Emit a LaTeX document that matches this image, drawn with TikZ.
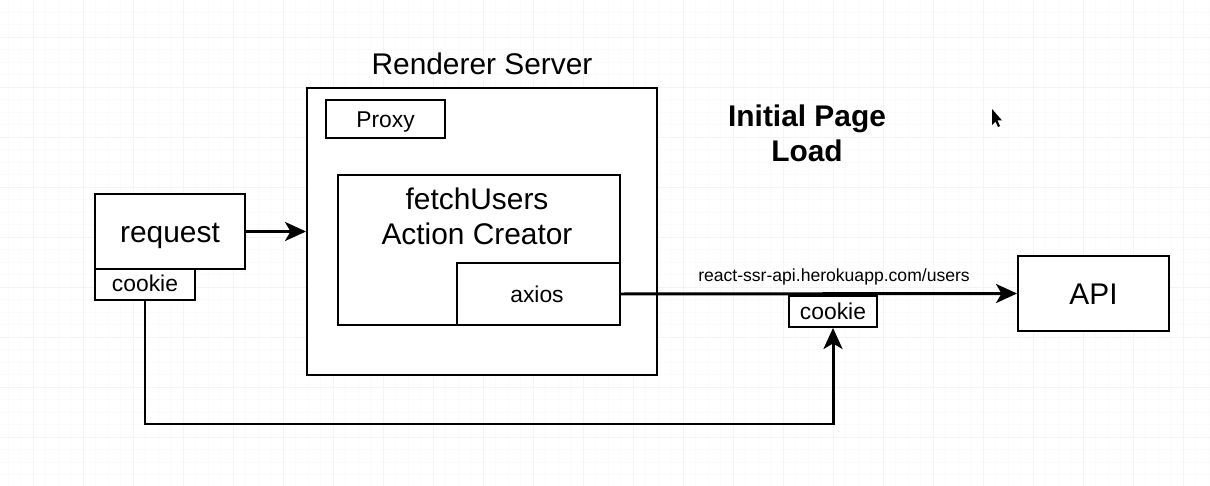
\documentclass[tikz,border=0pt]{standalone}
\usepackage{fontspec}
\setmainfont{Liberation Sans}
\usetikzlibrary{positioning, arrows.meta}

\begin{document}
\begin{tikzpicture}[
    box/.style={draw, line width=1.1pt, inner sep=0pt, fill=white},
    big/.style={font=\fontsize{17}{19.8}\selectfont, align=center},
    bigbox/.style={box, font=\fontsize{17}{19.8}\selectfont, text height=0.44cm, text depth=0pt},
    small/.style={box, font=\fontsize{13}{15}\selectfont, text height=0.35cm, text depth=0pt},
    flow/.style={line width=1.7pt, -{Stealth[length=4.2mm, width=3.8mm, inset=1.1mm]}},
]
\useasboundingbox (0,0) rectangle (24.2,9.7);

% background grid
\begin{scope}
\clip (0,0) rectangle (24.2,9.7);
\draw[gray!3, line width=0.4pt, shift={(0.66,-0.04)}, step=0.25] (-1,-1) grid (26,11);
\draw[gray!9, line width=0.5pt, shift={(0.66,-0.04)}, step=1] (-1,-1) grid (26,11);
\end{scope}

\node[box, minimum width=7.0cm, minimum height=5.74cm] (server) at (9.64, 5.07) {};
\node[big] (title) at (9.64, 8.42) {Renderer Server};
\node[small, minimum width=2.38cm, minimum height=0.76cm] (proxy) at (7.71, 7.32) {Proxy};

\node[box, minimum width=5.64cm, minimum height=3.0cm] (fetch) at (9.58, 4.7) {};
\node[big] (fetchlbl) at (9.54, 5.37) {fetchUsers\\Action Creator};
\node[small, minimum width=3.26cm, minimum height=1.24cm] (axios) at (10.77, 3.82) {\hspace{-0.06cm}axios};

\node[bigbox, minimum width=3.0cm, minimum height=1.5cm] (request) at (3.4, 5.07) {request};
\node[small, minimum width=2.0cm, minimum height=0.62cm, text height=0.3cm] (cookie1) at (2.9, 4.01) {cookie};

\node[bigbox, minimum width=3.02cm, minimum height=1.5cm] (api) at (21.87, 3.83) {API};
\node[small, minimum width=1.76cm, minimum height=0.62cm, text height=0.34cm] (cookie2) at (16.66, 3.47) {cookie};

\node[big, font=\fontsize{17}{19.8}\bfseries] (heading) at (16.14, 7.04) {Initial Page\\Load};
\node[font=\fontsize{10}{12}\selectfont] (url) at (16.68, 4.16) {react-ssr-api.herokuapp.com/users};

\coordinate (turn1) at (2.9, 1.22);
\coordinate (turn2) at (16.66, 1.22);

\draw[flow] (request.east) -- (request.east -| server.west);
\draw[flow] (axios.east) -- (api.west);
\draw[flow] (cookie1.south) -- (turn1) -- (turn2) -- (cookie2.south);

% mouse pointer
\fill[black] (19.84, 7.52) -- (19.84, 7.2) -- (19.91, 7.27) -- (19.96, 7.16)
    -- (20.0, 7.18) -- (19.95, 7.29) -- (20.04, 7.29) -- cycle;
\end{tikzpicture}
\end{document}
